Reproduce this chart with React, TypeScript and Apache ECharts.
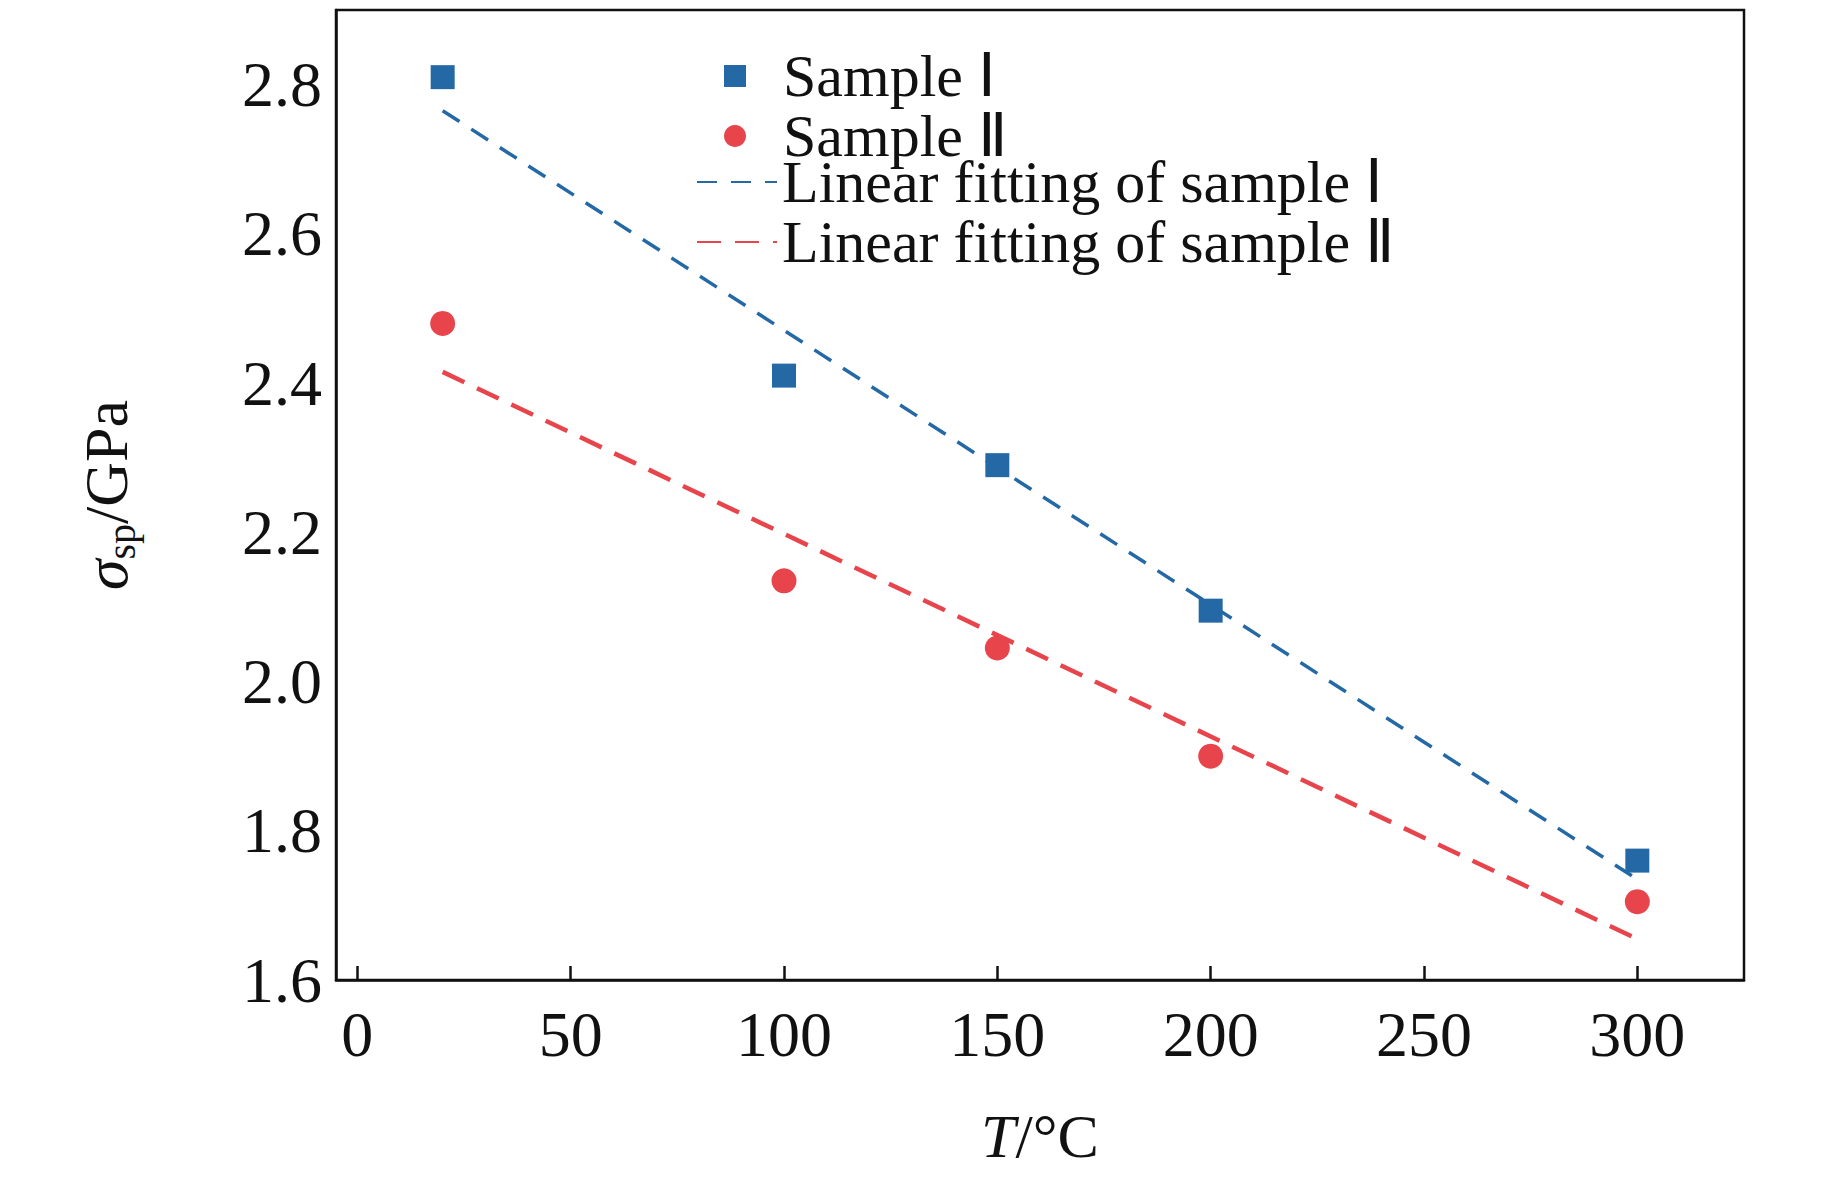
import { useEffect, useRef } from 'react';
import * as echarts from 'echarts';

const temps = [20, 100, 150, 200, 300];
const sample1 = [2.81, 2.41, 2.29, 2.095, 1.76];
const sample2 = [2.48, 2.135, 2.045, 1.9, 1.705];
const fit1: [number, number][] = [[20, 2.765], [300, 1.735]];
const fit2: [number, number][] = [[20, 2.415], [300, 1.655]];
const xTicks = [0, 50, 100, 150, 200, 250, 300];
const yTicks = [1.6, 1.8, 2.0, 2.2, 2.4, 2.6, 2.8];

const BLUE = '#2469a6';
const RED = '#e8444c';
const FONT = '"Liberation Serif", "Times New Roman", serif';

export default function App() {
  const ref = useRef<HTMLDivElement>(null);

  useEffect(() => {
    if (!ref.current) return;
    const chart = echarts.init(ref.current, undefined, { renderer: 'svg' });
    const legendText = { fontFamily: FONT, fontSize: 60, color: '#111', lineHeight: 53 };
    chart.setOption({
      animation: false,
      textStyle: { fontFamily: FONT, color: '#111' },
      grid: {
        left: 328, right: 91, top: 2, bottom: 183,
        show: true, borderColor: '#111', borderWidth: 2.5,
      },
      legend: [
        {
          orient: 'vertical',
          left: 711,
          top: 33,
          itemGap: 0,
          itemWidth: 22,
          itemHeight: 22,
          textStyle: { ...legendText, padding: [0, 0, 0, 32] },
          data: [
            { name: 'Sample Ⅰ', icon: 'rect' },
            { name: 'Sample Ⅱ', icon: 'circle' },
          ],
        },
        {
          orient: 'vertical',
          left: 683,
          top: 139,
          itemGap: 0,
          itemWidth: 80,
          itemHeight: 22,
          itemStyle: { opacity: 0 },
          textStyle: { ...legendText, padding: [0, 0, 0, 0] },
          data: [
            { name: 'Linear fitting of sample Ⅰ' },
            { name: 'Linear fitting of sample Ⅱ' },
          ],
        },
      ],
      xAxis: {
        type: 'value',
        min: -5,
        max: 325,
        name: '{i|T}/°C',
        nameLocation: 'middle',
        nameGap: 125,
        nameTextStyle: { fontFamily: FONT, fontSize: 62, color: '#111', rich: { i: { fontStyle: 'italic', fontFamily: FONT, fontSize: 62 } } },
        splitLine: { show: false },
        axisLine: { onZero: false, lineStyle: { color: '#111', width: 2.5 } },
        axisTick: { inside: true, length: 14, customValues: xTicks, lineStyle: { color: '#111', width: 2.5 } },
        axisLabel: { customValues: xTicks, fontSize: 64, color: '#111', fontFamily: FONT, margin: 22 },
      },
      yAxis: {
        type: 'value',
        min: 1.6,
        max: 2.9,
        name: '{i|σ}{s|sp}/GPa',
        nameLocation: 'middle',
        nameGap: 195,
        nameTextStyle: {
          fontFamily: FONT, fontSize: 62, color: '#111',
          rich: {
            i: { fontStyle: 'italic', fontFamily: FONT, fontSize: 62 },
            s: { fontFamily: FONT, fontSize: 40, verticalAlign: 'bottom', padding: [30, 0, 0, 0] },
          },
        },
        splitLine: { show: false },
        axisLine: { onZero: false, lineStyle: { color: '#111', width: 2.5 } },
        axisTick: { show: false },
        axisLabel: {
          customValues: yTicks, fontSize: 64, color: '#111', fontFamily: FONT, margin: 14,
          formatter: (v: number) => v.toFixed(1),
        },
      },
      series: [
        {
          name: 'Sample Ⅰ', type: 'scatter', symbol: 'rect', symbolSize: 24,
          itemStyle: { color: BLUE, opacity: 1 }, data: temps.map((t, i) => [t, sample1[i]]),
        },
        {
          name: 'Sample Ⅱ', type: 'scatter', symbol: 'circle', symbolSize: 25,
          itemStyle: { color: RED, opacity: 1 }, data: temps.map((t, i) => [t, sample2[i]]),
        },
        {
          name: 'Linear fitting of sample Ⅰ', type: 'line', showSymbol: false, symbol: 'none',
          lineStyle: { color: BLUE, width: 3.5, type: [20, 14] }, itemStyle: { color: BLUE }, data: fit1,
        },
        {
          name: 'Linear fitting of sample Ⅱ', type: 'line', showSymbol: false, symbol: 'none',
          lineStyle: { color: RED, width: 4.5, type: [24, 14] }, itemStyle: { color: RED }, data: fit2,
        },
      ],
    });
    return () => chart.dispose();
  }, []);

  return <div ref={ref} style={{ width: 1827, height: 1164 }} />;
}
